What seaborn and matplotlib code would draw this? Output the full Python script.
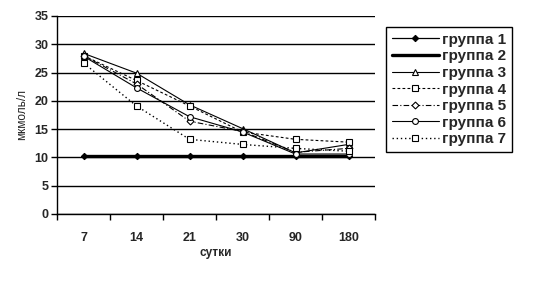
import matplotlib
matplotlib.use("Agg")
import matplotlib.pyplot as plt
import seaborn as sns
import pandas as pd
import numpy as np

days = ["7", "14", "21", "30", "90", "180"]
group1 = [10.3, 10.3, 10.3, 10.3, 10.3, 10.3]
group2 = [10.3, 10.3, 10.3, 10.3, 10.3, 10.3]
group3 = [28.4, 24.9, 19.3, 15.1, 10.8, 12.3]
group4 = [28.0, 23.6, 19.1, 14.5, 13.2, 12.7]
group5 = [28.0, 23.0, 16.4, 14.6, 10.9, 11.6]
group6 = [27.9, 22.3, 17.2, 14.5, 10.6, 10.6]
group7 = [26.7, 19.1, 13.2, 12.3, 11.6, 11.1]
names = ["группа 1", "группа 2", "группа 3", "группа 4", "группа 5", "группа 6", "группа 7"]
series = [group1, group2, group3, group4, group5, group6, group7]

sns.set_theme(style="white")
plt.rcParams['font.family'] = ['Liberation Sans', 'DejaVu Sans']

fig = plt.figure(figsize=(5.34, 2.92), dpi=100)
ax = fig.add_axes([57/534, 78/292, 318/534, 198/292])

styles = [
    dict(ls="-", lw=0.9, marker="D", ms=3.2, mfc="black", mec="black"),
    dict(ls="-", lw=2.4, marker=None),
    dict(ls="-", lw=0.8, marker="^", ms=4.2, mfc="white", mec="black"),
    dict(ls=(0, (2.5, 2)), lw=0.8, marker="s", ms=4.2, mfc="white", mec="black"),
    dict(ls=(0, (5, 2, 1, 2)), lw=0.8, marker="D", ms=3.5, mfc="white", mec="black"),
    dict(ls="-", lw=0.8, marker="o", ms=4.2, mfc="white", mec="black"),
    dict(ls=(0, (1, 2)), lw=1.0, marker="s", ms=4.2, mfc="white", mec="black"),
]

rows = []
for n, s in zip(names, series):
    for i, v in enumerate(s):
        rows.append(dict(group=n, x=i, value=v))
df = pd.DataFrame(rows)

for n, st in zip(names, styles):
    sub = df[df.group == n]
    kw = dict(color="black", linewidth=st["lw"], linestyle=st["ls"], label=n)
    if st.get("marker"):
        kw.update(marker=st["marker"], markersize=st["ms"], markerfacecolor=st["mfc"],
                  markeredgecolor=st["mec"], markeredgewidth=0.8)
    sns.lineplot(data=sub, x="x", y="value", ax=ax, **kw)

ax.set_xlim(-0.5, 5.5)
ax.set_ylim(0, 35)
ax.set_yticks(np.arange(0, 36, 5))
ax.set_xticks(range(len(days)))
ax.set_xticklabels(days)
ax.set_xticks(np.arange(-0.5, 5.6, 1), minor=True)
ax.tick_params(axis="x", which="major", length=0, pad=13, labelsize=9)
ax.tick_params(axis="x", which="minor", length=4, width=1, direction="out", color="black", bottom=True)
ax.tick_params(axis="y", length=4, width=1, direction="out", color="black", left=True, labelsize=9, pad=2)
for lab in ax.get_xticklabels() + ax.get_yticklabels():
    lab.set_fontweight("bold")
ax.yaxis.grid(True, color="black", linewidth=1)
ax.set_axisbelow(True)
for side in ["top", "right"]:
    ax.spines[side].set_visible(False)
for side in ["left", "bottom"]:
    ax.spines[side].set_color("black")
    ax.spines[side].set_linewidth(1)
ax.set_xlabel("сутки", fontsize=8.5, fontweight="bold", labelpad=2)
ax.set_ylabel("мкмоль/л", fontsize=8.5, labelpad=5)

if ax.legend_:
    ax.legend_.remove()
handles, labels = ax.get_legend_handles_labels()
leg = fig.legend(handles, labels, loc="upper left", bbox_to_anchor=(386/534, 1 - 27/292),
                 frameon=True, fancybox=False, edgecolor="black", framealpha=1,
                 prop=dict(family=['Liberation Sans', 'DejaVu Sans'], weight="bold", size=11),
                 handlelength=3.1, handletextpad=0.2, labelspacing=0.17, borderpad=0.38,
                 borderaxespad=0)
leg.get_frame().set_linewidth(1)

fig.savefig("out.png", dpi=100, facecolor="white")
